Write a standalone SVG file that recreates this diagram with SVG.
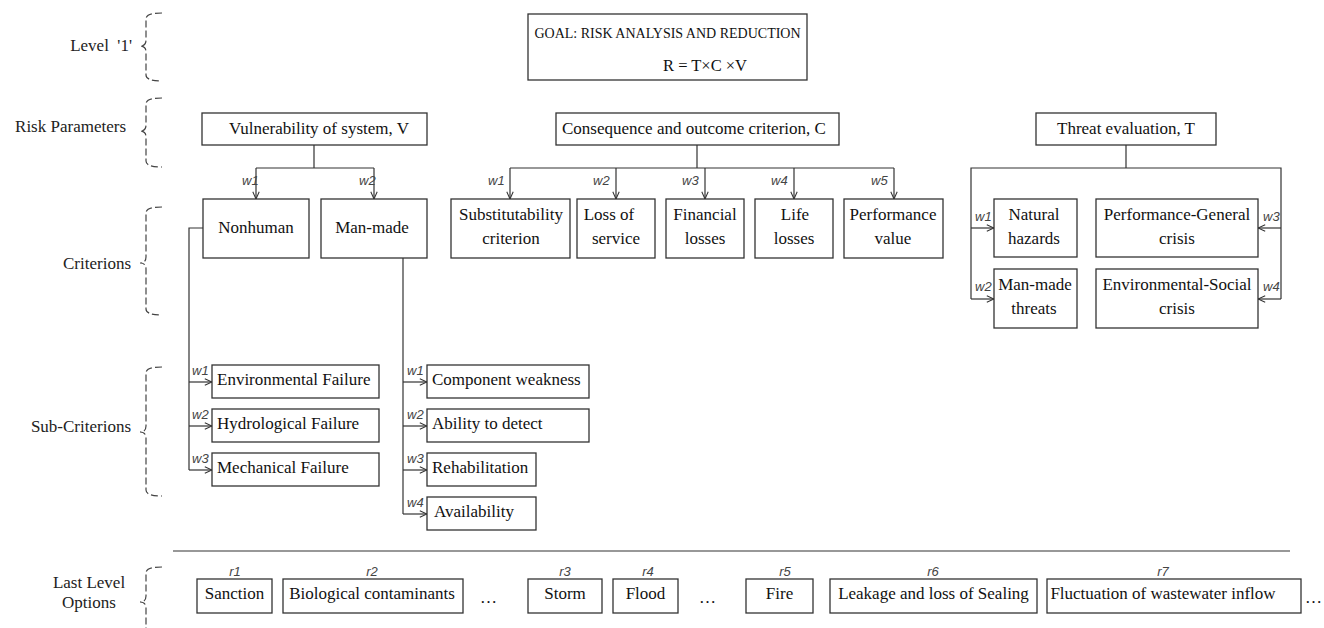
<svg xmlns="http://www.w3.org/2000/svg" width="1324" height="628" viewBox="0 0 1324 628">
<style>
.bx{fill:#fff;stroke:#333;stroke-width:1.3}
.t{font-family:"Liberation Serif","Times New Roman",serif;font-size:17px;fill:#111}
.tc{font-family:"Liberation Serif","Times New Roman",serif;font-size:17px;fill:#111;text-anchor:middle}
.lb{font-family:"Liberation Serif","Times New Roman",serif;font-size:17px;fill:#222}
.g{font-family:"Liberation Serif","Times New Roman",serif;font-size:14px;fill:#111}
.w{font-family:"Liberation Sans",Arial,sans-serif;font-size:13px;font-style:italic;fill:#444}
.r{font-family:"Liberation Sans",Arial,sans-serif;font-size:13px;font-style:italic;fill:#444;text-anchor:middle}
.ln{fill:none;stroke:#333;stroke-width:1.2}
.ar{fill:none;stroke:#333;stroke-width:1.2;marker-end:url(#arr)}
.br{fill:none;stroke:#444;stroke-width:1.2;stroke-dasharray:7,3}
</style>
<defs>
<marker id="arr" viewBox="0 0 10 10" refX="10" refY="5" markerWidth="8" markerHeight="8" orient="auto" markerUnits="userSpaceOnUse">
<path d="M1,1 L10,5 L1,9" fill="none" stroke="#333" stroke-width="1.3"/>
</marker>
</defs>
<rect width="1324" height="628" fill="#fff"/>

<g id="level-labels">
<text class="lb" x="132" y="51" text-anchor="end" style="white-space:pre">Level  '1'</text>
<path class="br" d="M162,13 Q146,13 146,19 L146,40 Q146,46 140,46 Q146,46 146,52 L146,75 Q146,81 162,81"/>
<text class="lb" x="126" y="132" text-anchor="end">Risk Parameters</text>
<path class="br" d="M162,98 Q146,98 146,104 L146,125 Q146,131 140,131 Q146,131 146,137 L146,161 Q146,167 162,167"/>
<text class="lb" x="131" y="269" text-anchor="end">Criterions</text>
<path class="br" d="M162,207 Q146,207 146,213 L146,257 Q146,263 140,263 Q146,263 146,269 L146,309 Q146,315 162,315"/>
<text class="lb" x="131" y="432" text-anchor="end">Sub-Criterions</text>
<path class="br" d="M162,367 Q146,367 146,373 L146,426 Q146,432 140,432 Q146,432 146,438 L146,490 Q146,496 162,496"/>
<text class="lb" x="89" y="588" text-anchor="middle">Last Level</text>
<text class="lb" x="89" y="608" text-anchor="middle">Options</text>
<path class="br" d="M162,567 Q146,567 146,573 L146,596 Q146,602 140,602 Q146,602 146,608 L146,640"/>
</g>

<g id="connectors">
<line class="ln" x1="173" y1="551" x2="1290" y2="551"/>
<path class="ln" d="M314,145 V168 M256,168 H374"/>
<path class="ar" d="M256,168 V199"/>
<path class="ar" d="M374,168 V199"/>
<path class="ln" d="M697,145 V168 M510,168 H894"/>
<path class="ar" d="M510,168 V199"/>
<path class="ar" d="M616,168 V199"/>
<path class="ar" d="M705,168 V199"/>
<path class="ar" d="M794,168 V199"/>
<path class="ar" d="M894,168 V199"/>
<path class="ln" d="M1126,145 V168 M971,299 V168 H1281 V299"/>
<path class="ar" d="M971,228 H994"/>
<path class="ar" d="M971,299 H994"/>
<path class="ar" d="M1281,228 H1258"/>
<path class="ar" d="M1281,299 H1258"/>
<path class="ln" d="M203,228 H189 V470"/>
<path class="ar" d="M189,382 H212"/>
<path class="ar" d="M189,426 H212"/>
<path class="ar" d="M189,470 H212"/>
<path class="ln" d="M403,258 V514"/>
<path class="ar" d="M403,382 H427"/>
<path class="ar" d="M403,426 H427"/>
<path class="ar" d="M403,470 H427"/>
<path class="ar" d="M403,514 H427"/>
<text class="w" x="242" y="185">w1</text>
<text class="w" x="359" y="185">w2</text>
<text class="w" x="488" y="185">w1</text>
<text class="w" x="593" y="185">w2</text>
<text class="w" x="682" y="185">w3</text>
<text class="w" x="771" y="185">w4</text>
<text class="w" x="871" y="185">w5</text>
<text class="w" x="975" y="221">w1</text>
<text class="w" x="975" y="291">w2</text>
<text class="w" x="1263" y="221">w3</text>
<text class="w" x="1263" y="291">w4</text>
<text class="w" x="192" y="375">w1</text>
<text class="w" x="192" y="419">w2</text>
<text class="w" x="192" y="463">w3</text>
<text class="w" x="407" y="375">w1</text>
<text class="w" x="407" y="419">w2</text>
<text class="w" x="407" y="463">w3</text>
<text class="w" x="407" y="507">w4</text>
</g>

<g id="goal">
<rect class="bx" x="528" y="14" width="279" height="66"/>
<text class="g" x="667.5" y="38" text-anchor="middle">GOAL: RISK ANALYSIS AND REDUCTION</text>
<text class="g" x="663" y="71" style="font-size:16.5px">R = T×C ×V</text>
</g>

<g id="vulnerability">
<rect class="bx" x="202" y="113" width="225" height="32"/>
<text class="t" x="229" y="134">Vulnerability of system, V</text>
</g>
<g id="consequence">
<rect class="bx" x="556" y="113" width="283" height="32"/>
<text class="t" x="562" y="134">Consequence and outcome criterion, C</text>
</g>
<g id="threat">
<rect class="bx" x="1036" y="113" width="180" height="32"/>
<text class="tc" x="1126" y="134">Threat evaluation, T</text>
</g>

<g id="nonhuman">
<rect class="bx" x="203" y="199" width="106" height="59"/>
<text class="tc" x="256" y="233">Nonhuman</text>
</g>
<g id="man-made">
<rect class="bx" x="321" y="199" width="106" height="59"/>
<text class="tc" x="372" y="233">Man-made</text>
</g>

<g id="substitutability">
<rect class="bx" x="451" y="199" width="119" height="59"/>
<text class="tc" x="511" y="220">Substitutability</text>
<text class="tc" x="511" y="244">criterion</text>
</g>
<g id="loss-of-service">
<rect class="bx" x="577" y="199" width="78" height="59"/>
<text class="tc" x="609" y="220">Loss of</text>
<text class="tc" x="616" y="244">service</text>
</g>
<g id="financial">
<rect class="bx" x="666" y="199" width="78" height="59"/>
<text class="tc" x="705" y="220">Financial</text>
<text class="tc" x="705" y="244">losses</text>
</g>
<g id="life">
<rect class="bx" x="755" y="199" width="78" height="59"/>
<text class="tc" x="795" y="220">Life</text>
<text class="tc" x="794" y="244">losses</text>
</g>
<g id="performance">
<rect class="bx" x="844" y="199" width="99" height="59"/>
<text class="tc" x="893" y="220">Performance</text>
<text class="tc" x="893" y="244">value</text>
</g>

<g id="natural-hazards">
<rect class="bx" x="994" y="199" width="83" height="58"/>
<text class="tc" x="1034" y="220">Natural</text>
<text class="tc" x="1034" y="244">hazards</text>
</g>
<g id="man-made-threats">
<rect class="bx" x="994" y="269" width="83" height="59"/>
<text class="tc" x="1035" y="290">Man-made</text>
<text class="tc" x="1034" y="314">threats</text>
</g>
<g id="performance-general">
<rect class="bx" x="1096" y="199" width="162" height="58"/>
<text class="tc" x="1177" y="220">Performance-General</text>
<text class="tc" x="1177" y="244">crisis</text>
</g>
<g id="environmental-social">
<rect class="bx" x="1096" y="269" width="162" height="59"/>
<text class="tc" x="1177" y="290">Environmental-Social</text>
<text class="tc" x="1177" y="314">crisis</text>
</g>

<g id="environmental-failure">
<rect class="bx" x="212" y="365" width="167" height="33"/>
<text class="t" x="217" y="385">Environmental Failure</text>
</g>
<g id="hydrological-failure">
<rect class="bx" x="212" y="409" width="167" height="33"/>
<text class="t" x="217" y="429">Hydrological Failure</text>
</g>
<g id="mechanical-failure">
<rect class="bx" x="212" y="453" width="167" height="33"/>
<text class="t" x="217" y="473">Mechanical Failure</text>
</g>
<g id="component-weakness">
<rect class="bx" x="427" y="365" width="162" height="33"/>
<text class="t" x="432" y="385">Component weakness</text>
</g>
<g id="ability-to-detect">
<rect class="bx" x="427" y="409" width="162" height="33"/>
<text class="t" x="432" y="429">Ability to detect</text>
</g>
<g id="rehabilitation">
<rect class="bx" x="427" y="453" width="109" height="33"/>
<text class="t" x="432" y="473">Rehabilitation</text>
</g>
<g id="availability">
<rect class="bx" x="427" y="497" width="109" height="33"/>
<text class="t" x="434" y="517">Availability</text>
</g>

<g id="sanction">
<text class="r" x="235" y="576">r1</text>
<rect class="bx" x="197" y="579" width="75" height="34"/>
<text class="tc" x="234.5" y="599">Sanction</text>
</g>
<g id="biological">
<text class="r" x="372" y="576">r2</text>
<rect class="bx" x="283" y="579" width="180" height="34"/>
<text class="tc" x="372" y="599">Biological contaminants</text>
</g>
<text class="t" x="480" y="603">…</text>
<g id="storm">
<text class="r" x="565" y="576">r3</text>
<rect class="bx" x="528" y="579" width="74" height="34"/>
<text class="tc" x="565" y="599">Storm</text>
</g>
<g id="flood">
<text class="r" x="648" y="576">r4</text>
<rect class="bx" x="613" y="579" width="65" height="34"/>
<text class="tc" x="645.5" y="599">Flood</text>
</g>
<text class="t" x="699" y="603">…</text>
<g id="fire">
<text class="r" x="785" y="576">r5</text>
<rect class="bx" x="746" y="579" width="67" height="34"/>
<text class="tc" x="779.5" y="599">Fire</text>
</g>
<g id="leakage">
<text class="r" x="933" y="576">r6</text>
<rect class="bx" x="830" y="579" width="207" height="34"/>
<text class="tc" x="933.5" y="599">Leakage and loss of Sealing</text>
</g>
<g id="fluctuation">
<text class="r" x="1163" y="576">r7</text>
<rect class="bx" x="1047" y="579" width="254" height="34"/>
<text class="tc" x="1163" y="599">Fluctuation of wastewater inflow</text>
</g>
<text class="t" x="1305" y="603">…</text>
</svg>
